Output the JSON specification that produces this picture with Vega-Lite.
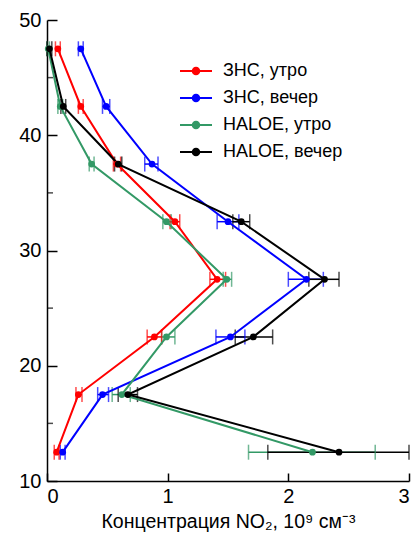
{
  "$schema": "https://vega.github.io/schema/vega-lite/v6.json",
  "width": 362,
  "height": 461,
  "autosize": {"type": "none"},
  "padding": {"left": 47, "top": 20, "right": 7, "bottom": 56},
  "background": "white",
  "config": {
    "view": {"stroke": null},
    "font": "Liberation Sans",
    "axis": {"grid": false, "domainColor": "black", "tickColor": "black", "labelColor": "black", "titleColor": "black", "labelFont": "Liberation Sans", "titleFont": "Liberation Sans"},
    "legend": {"labelFont": "Liberation Sans"}
  },
  "data": {"values": [
    {"s": "ЗНС, утро", "alt": 47.5, "x": 0.09, "lo": 0.07, "hi": 0.11},
    {"s": "ЗНС, утро", "alt": 42.5, "x": 0.28, "lo": 0.26, "hi": 0.30},
    {"s": "ЗНС, утро", "alt": 37.5, "x": 0.58, "lo": 0.55, "hi": 0.61},
    {"s": "ЗНС, утро", "alt": 32.5, "x": 1.06, "lo": 1.02, "hi": 1.10},
    {"s": "ЗНС, утро", "alt": 27.5, "x": 1.41, "lo": 1.35, "hi": 1.48},
    {"s": "ЗНС, утро", "alt": 22.5, "x": 0.89, "lo": 0.83, "hi": 0.95},
    {"s": "ЗНС, утро", "alt": 17.5, "x": 0.26, "lo": 0.24, "hi": 0.29},
    {"s": "ЗНС, утро", "alt": 12.5, "x": 0.08, "lo": 0.06, "hi": 0.10},
    {"s": "ЗНС, вечер", "alt": 47.5, "x": 0.28, "lo": 0.26, "hi": 0.30},
    {"s": "ЗНС, вечер", "alt": 42.5, "x": 0.49, "lo": 0.46, "hi": 0.52},
    {"s": "ЗНС, вечер", "alt": 37.5, "x": 0.87, "lo": 0.81, "hi": 0.92},
    {"s": "ЗНС, вечер", "alt": 32.5, "x": 1.50, "lo": 1.41, "hi": 1.59},
    {"s": "ЗНС, вечер", "alt": 27.5, "x": 2.15, "lo": 2.00, "hi": 2.29},
    {"s": "ЗНС, вечер", "alt": 22.5, "x": 1.52, "lo": 1.40, "hi": 1.64},
    {"s": "ЗНС, вечер", "alt": 17.5, "x": 0.46, "lo": 0.42, "hi": 0.51},
    {"s": "ЗНС, вечер", "alt": 12.5, "x": 0.13, "lo": 0.11, "hi": 0.15},
    {"s": "HALOE, утро", "alt": 47.5, "x": 0.01, "lo": 0.0, "hi": 0.02},
    {"s": "HALOE, утро", "alt": 42.5, "x": 0.11, "lo": 0.09, "hi": 0.13},
    {"s": "HALOE, утро", "alt": 37.5, "x": 0.37, "lo": 0.35, "hi": 0.39},
    {"s": "HALOE, утро", "alt": 32.5, "x": 0.99, "lo": 0.96, "hi": 1.03},
    {"s": "HALOE, утро", "alt": 27.5, "x": 1.49, "lo": 1.46, "hi": 1.53},
    {"s": "HALOE, утро", "alt": 22.5, "x": 0.99, "lo": 0.95, "hi": 1.06},
    {"s": "HALOE, утро", "alt": 17.5, "x": 0.62, "lo": 0.54, "hi": 0.69},
    {"s": "HALOE, утро", "alt": 12.5, "x": 2.20, "lo": 1.67, "hi": 2.72},
    {"s": "HALOE, вечер", "alt": 47.5, "x": 0.02, "lo": 0.0, "hi": 0.04},
    {"s": "HALOE, вечер", "alt": 42.5, "x": 0.135, "lo": 0.115, "hi": 0.155},
    {"s": "HALOE, вечер", "alt": 37.5, "x": 0.59, "lo": 0.56, "hi": 0.62},
    {"s": "HALOE, вечер", "alt": 32.5, "x": 1.61, "lo": 1.54, "hi": 1.68},
    {"s": "HALOE, вечер", "alt": 27.5, "x": 2.30, "lo": 2.17, "hi": 2.42},
    {"s": "HALOE, вечер", "alt": 22.5, "x": 1.71, "lo": 1.56, "hi": 1.87},
    {"s": "HALOE, вечер", "alt": 17.5, "x": 0.67, "lo": 0.59, "hi": 0.75},
    {"s": "HALOE, вечер", "alt": 12.5, "x": 2.42, "lo": 1.83, "hi": 3.0}
  ]},
  "encoding": {
    "y": {"field": "alt", "type": "quantitative", "scale": {"domain": [10, 50], "nice": false, "zero": false},
      "axis": {"title": null, "values": [10, 20, 30, 40, 50], "tickSize": -10, "labelPadding": 16, "labelFontSize": 20, "domainWidth": 1.5, "tickWidth": 1.5}},
    "color": {"field": "s", "type": "nominal",
      "scale": {"domain": ["ЗНС, утро", "ЗНС, вечер", "HALOE, утро", "HALOE, вечер"], "range": ["#ff0000", "#0000ff", "#339966", "#000000"]},
      "legend": {"title": null, "orient": "none", "legendX": 130, "legendY": 42, "labelFontSize": 18, "labelColor": "black", "symbolOpacity": 1,
        "symbolType": "M-3.2,0H3.2M-0.65,0A0.65,0.65,0,1,1,0.65,0A0.65,0.65,0,1,1,-0.65,0Z", "symbolSize": 100, "symbolStrokeWidth": 2, "symbolOffset": 10, "labelOffset": 18, "rowPadding": 9}}
  },
  "layer": [
    {"mark": {"type": "rule", "strokeWidth": 1.5},
      "encoding": {"x": {"field": "lo", "type": "quantitative"}, "x2": {"field": "hi"}}},
    {"mark": {"type": "tick", "orient": "vertical", "size": 15, "thickness": 1.5},
      "encoding": {"x": {"field": "lo", "type": "quantitative"}}},
    {"mark": {"type": "tick", "orient": "vertical", "size": 15, "thickness": 1.5},
      "encoding": {"x": {"field": "hi", "type": "quantitative"}}},
    {"mark": {"type": "line", "strokeWidth": 2},
      "encoding": {"x": {"field": "x", "type": "quantitative"}, "order": {"field": "alt", "type": "quantitative"}}},
    {"mark": {"type": "point", "filled": true, "size": 45, "opacity": 1},
      "encoding": {"x": {"field": "x", "type": "quantitative",
        "scale": {"domain": [0, 3], "nice": false},
        "axis": {"title": "Концентрация NO₂, 10⁹ см⁻³", "titleFontSize": 19.5, "titleFontWeight": "normal", "titlePadding": 6, "values": [0, 1, 2, 3], "format": "d", "tickSize": -8, "labelPadding": 13, "labelFontSize": 20, "domainWidth": 1.5, "tickWidth": 1.5}}}},
    {"mark": {"type": "tick", "orient": "horizontal", "size": 6, "thickness": 1.5, "color": "black"},
      "data": {"values": [{"alt": 15}, {"alt": 25}, {"alt": 35}, {"alt": 45}]},
      "encoding": {"x": {"datum": 0, "type": "quantitative"}, "xOffset": {"value": 3}, "color": {"value": "black"}}}
  ]
}
